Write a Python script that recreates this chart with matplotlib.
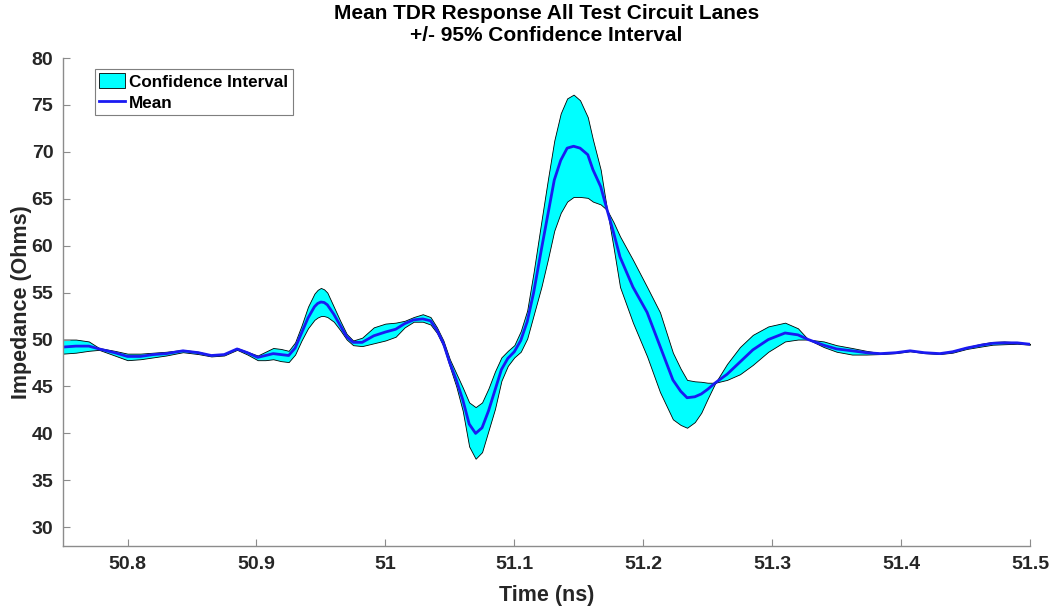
import matplotlib
matplotlib.use("Agg")
import matplotlib.pyplot as plt

# time axis (ns) and the three traces
time_ns = [50.750, 50.760, 50.770, 50.778, 50.790, 50.800, 50.810, 50.820, 50.830, 50.843,
           50.855, 50.865, 50.875, 50.885, 50.893, 50.901, 50.907, 50.913, 50.919, 50.925,
           50.930, 50.935, 50.940, 50.945, 50.9475, 50.950, 50.9525, 50.955, 50.960, 50.965,
           50.970, 50.975, 50.982, 50.991, 51.000, 51.008, 51.015, 51.022, 51.029, 51.035,
           51.040, 51.045, 51.050, 51.055, 51.060, 51.065, 51.070, 51.075, 51.080, 51.085,
           51.090, 51.095, 51.100, 51.105, 51.110, 51.115, 51.121, 51.126, 51.131, 51.136,
           51.141, 51.146, 51.151, 51.157, 51.161, 51.167, 51.172, 51.177, 51.182, 51.192,
           51.203, 51.213, 51.223, 51.229, 51.234, 51.240, 51.245, 51.250, 51.256, 51.265,
           51.275, 51.285, 51.297, 51.310, 51.320, 51.328, 51.340, 51.350, 51.362, 51.373,
           51.384, 51.396, 51.407, 51.418, 51.430, 51.440, 51.451, 51.462, 51.471, 51.480,
           51.490, 51.500]

mean_ohm = [49.2, 49.3, 49.3, 49.0, 48.6, 48.2, 48.2, 48.4, 48.5, 48.8,
            48.6, 48.3, 48.4, 49.0, 48.6, 48.1, 48.3, 48.5, 48.4, 48.3,
            49.1, 50.7, 52.3, 53.5, 53.85, 54.0, 53.95, 53.7, 52.7, 51.5,
            50.3, 49.7, 49.7, 50.4, 50.8, 51.1, 51.7, 52.1, 52.2, 52.0,
            51.0, 49.6, 47.5, 45.7, 43.6, 41.0, 40.0, 40.6, 42.4, 44.6,
            46.8, 48.0, 48.7, 49.9, 51.9, 55.0, 59.6, 63.3, 67.0, 69.1,
            70.4, 70.6, 70.4, 69.7, 68.1, 66.3, 63.8, 61.4, 58.8, 55.6,
            52.9, 49.3, 45.7, 44.5, 43.8, 43.9, 44.2, 44.7, 45.4, 46.3,
            47.6, 48.9, 50.0, 50.7, 50.5, 50.0, 49.4, 49.0, 48.8, 48.6,
            48.5, 48.6, 48.8, 48.6, 48.5, 48.7, 49.1, 49.4, 49.6, 49.65,
            49.65, 49.5]

ci_edge_a = [50.0, 50.0, 49.8, 49.1, 48.8, 48.5, 48.5, 48.6, 48.7, 48.9,
             48.7, 48.35, 48.45, 49.1, 48.7, 48.3, 48.7, 49.1, 49.0, 48.8,
             49.7, 51.5, 53.5, 54.9, 55.3, 55.5, 55.35, 55.0, 53.5, 52.0,
             50.6, 49.9, 50.2, 51.3, 51.7, 51.8, 52.0, 52.4, 52.7, 52.4,
             51.3, 49.9, 47.9, 46.4, 44.9, 43.3, 42.8, 43.3, 44.8, 46.6,
             48.1, 48.8, 49.4, 50.9, 53.1, 57.2, 62.6, 67.0, 71.2, 74.1,
             75.7, 76.1, 75.5, 73.7, 71.3, 68.1, 63.8, 59.8, 55.6, 51.8,
             48.2, 44.4, 41.5, 40.9, 40.6, 41.2, 42.2, 43.7, 45.4, 47.4,
             49.2, 50.5, 51.4, 51.8, 51.2, 50.0, 49.2, 48.7, 48.4, 48.4,
             48.45, 48.55, 48.75, 48.55, 48.45, 48.6, 49.0, 49.25, 49.45, 49.5,
             49.55, 49.45]

ci_edge_b = [48.5, 48.6, 48.8, 48.9, 48.3, 47.8, 47.9, 48.1, 48.3, 48.65,
             48.45, 48.2, 48.3, 48.9, 48.4, 47.8, 47.8, 47.9, 47.7, 47.6,
             48.4, 49.9, 51.2, 52.1, 52.35, 52.5, 52.5, 52.4, 51.9, 51.0,
             50.0, 49.4, 49.3, 49.6, 49.9, 50.3, 51.3, 51.9, 51.9, 51.6,
             50.7, 49.3, 47.1, 45.0, 42.4, 38.6, 37.3, 38.0, 40.3, 42.6,
             45.6, 47.2, 48.1, 48.7, 50.1, 52.6, 55.6, 58.5, 61.6, 63.5,
             64.7, 65.2, 65.2, 65.1, 64.7, 64.4, 63.8, 62.5, 61.0, 58.5,
             55.6, 52.9, 48.6, 46.9, 45.7, 45.55, 45.5, 45.4, 45.4, 45.7,
             46.3, 47.3, 48.7, 49.8, 50.0, 50.0, 49.8, 49.4, 49.1, 48.8,
             48.55, 48.65, 48.85, 48.65, 48.55, 48.8, 49.2, 49.55, 49.75, 49.8,
             49.7, 49.55]

x_ticks = [50.8, 50.9, 51.0, 51.1, 51.2, 51.3, 51.4, 51.5]
x_tick_labels = ['50.8', '50.9', '51', '51.1', '51.2', '51.3', '51.4', '51.5']
y_ticks = [30, 35, 40, 45, 50, 55, 60, 65, 70, 75, 80]

plt.rcParams['font.family'] = ['Liberation Sans', 'DejaVu Sans']
plt.rcParams['font.weight'] = 'bold'

fig = plt.figure(figsize=(10.56, 6.11), dpi=100)
ax = fig.add_axes([0.0597, 0.1064, 0.9157, 0.7986])

ax.fill_between(time_ns, ci_edge_a, ci_edge_b, facecolor=(0, 1, 1),
                edgecolor='black', linewidth=0.6, label='Confidence Interval')
ax.plot(time_ns, mean_ohm, color=(0.1, 0.1, 0.95), linewidth=2.0,
        solid_joinstyle='round', label='Mean')

ax.set_xlim(50.75, 51.5)
ax.set_ylim(28, 80)
ax.set_xticks(x_ticks)
ax.set_xticklabels(x_tick_labels)
ax.set_yticks(y_ticks)

for side in ['top', 'right']:
    ax.spines[side].set_visible(False)
for side in ['left', 'bottom']:
    ax.spines[side].set_color('#8c8c8c')
    ax.spines[side].set_linewidth(1.0)
ax.tick_params(direction='in', length=5, width=0.8, color='#8c8c8c',
               labelsize=14, labelcolor='#262626', pad=7)
for lab in ax.get_xticklabels() + ax.get_yticklabels():
    lab.set_fontweight('bold')

ax.set_xlabel('Time (ns)', fontsize=15.5, fontweight='bold', color='#262626', labelpad=9)
ax.set_ylabel('Impedance (Ohms)', fontsize=15.5, fontweight='bold', color='#262626', labelpad=0)
ax.set_title('Mean TDR Response All Test Circuit Lanes\n+/- 95% Confidence Interval',
             fontsize=15, fontweight='bold', color='black', linespacing=1.2, pad=12)

leg = ax.legend(loc='upper left', bbox_to_anchor=(0.033, 0.978), fontsize=12.3,
                fancybox=False, framealpha=1, edgecolor='#7f7f7f',
                borderpad=0.25, handlelength=1.5, handleheight=1.0, handletextpad=0.25,
                labelspacing=0.3, borderaxespad=0)
leg.get_frame().set_linewidth(0.8)
for t in leg.get_texts():
    t.set_fontweight('bold')

fig.savefig('out.png', dpi=100)
